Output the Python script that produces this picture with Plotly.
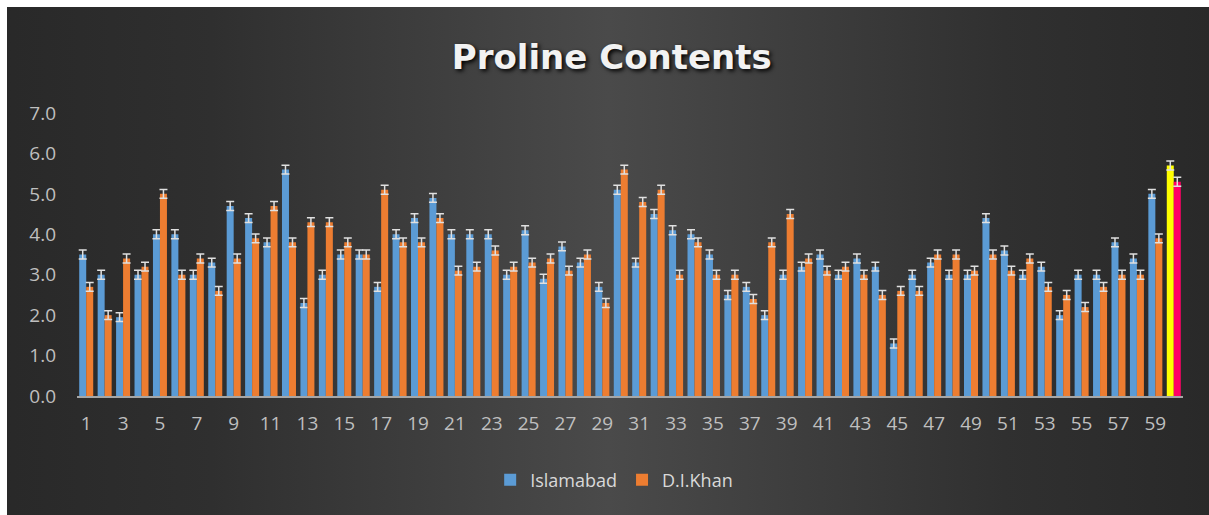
import plotly.graph_objects as go

W, H = 1209, 515

categories = list(range(1, 61))
tick_labels = [str(c) for c in categories[::2]]

islamabad = [3.5, 3.0, 1.95, 3.0, 4.0, 4.0, 3.0, 3.3, 4.7, 4.4,
             3.8, 5.6, 2.3, 3.0, 3.5, 3.5, 2.7, 4.0, 4.4, 4.9,
             4.0, 4.0, 4.0, 3.0, 4.1, 2.9, 3.7, 3.3, 2.7, 5.1,
             3.3, 4.5, 4.1, 4.0, 3.5, 2.5, 2.7, 2.0, 3.0, 3.2,
             3.5, 3.0, 3.4, 3.2, 1.3, 3.0, 3.3, 3.0, 3.0, 4.4,
             3.6, 3.0, 3.2, 2.0, 3.0, 3.0, 3.8, 3.4, 5.0, 5.7]
dikhan = [2.7, 2.0, 3.4, 3.2, 5.0, 3.0, 3.4, 2.6, 3.4, 3.9,
          4.7, 3.8, 4.3, 4.3, 3.8, 3.5, 5.1, 3.8, 3.8, 4.4,
          3.1, 3.2, 3.6, 3.2, 3.3, 3.4, 3.1, 3.5, 2.3, 5.6,
          4.8, 5.1, 3.0, 3.8, 3.0, 3.0, 2.4, 3.8, 4.5, 3.4,
          3.1, 3.2, 3.0, 2.5, 2.6, 2.6, 3.5, 3.5, 3.1, 3.5,
          3.1, 3.4, 2.7, 2.5, 2.2, 2.7, 3.0, 3.0, 3.9, 5.3]
islamabad_err = [0.11] * 60
dikhan_err = [0.11] * 60

BLUE, ORANGE, YELLOW, PINK = "#5b9bd5", "#ed7d31", "#ffff00", "#ff0066"
blue_colors = [BLUE] * 59 + [YELLOW]
orange_colors = [ORANGE] * 59 + [PINK]

fig = go.Figure()

# background gradient panel (drawn on its own hidden subplot, beneath)
fig.add_trace(go.Scatter(
    x=[-0.05, 1.05, 1.05, -0.05, -0.05], y=[-0.05, -0.05, 1.05, 1.05, -0.05], mode="lines", fill="toself",
    line=dict(width=0), fillgradient=dict(type="horizontal", colorscale=[
        [0, "#272727"], [0.2, "#2f2f2f"], [0.5, "#4a4a4a"], [0.8, "#303030"], [1, "#272727"]]),
    hoverinfo="skip", showlegend=False, xaxis="x", yaxis="y"))

fig.add_trace(go.Bar(
    name="Islamabad", x=categories, y=islamabad, marker=dict(color=blue_colors, line=dict(width=0)),
    error_y=dict(type="data", array=islamabad_err, color="#e0e0e0", thickness=1.5, width=4),
    xaxis="x2", yaxis="y2"))
fig.add_trace(go.Bar(
    name="D.I.Khan", x=categories, y=dikhan, marker=dict(color=orange_colors, line=dict(width=0)),
    error_y=dict(type="data", array=dikhan_err, color="#e0e0e0", thickness=1.5, width=4),
    xaxis="x2", yaxis="y2"))

fig.update_layout(
    template="none",
    width=W, height=H,
    margin=dict(l=0, r=0, t=0, b=0, pad=0, autoexpand=False),
    paper_bgcolor="#272727", plot_bgcolor="rgba(0,0,0,0)",
    shapes=[
        dict(type="rect", xref="paper", yref="paper", x0=0, x1=1, y0=1 - 7 / H, y1=1.01,
             fillcolor="white", line=dict(width=0), layer="below"),
        dict(type="rect", xref="paper", yref="paper", x0=-0.01, x1=7 / W, y0=-0.01, y1=1.01,
             fillcolor="white", line=dict(width=0), layer="below"),
    ],
    barmode="group", bargap=0.24, bargroupgap=0.0,
    font=dict(family="Open Sans, sans-serif", color="#bfbfbf"),
    title=dict(text="<b>Proline Contents</b>", x=0.506, xanchor="center", y=0.889, yanchor="middle",
               font=dict(size=34, color="#f2f2f2", family="DejaVu Sans, sans-serif",
                         shadow="2px 2px 4px #000000")),
    xaxis=dict(domain=[7 / W, 1], range=[0, 1], visible=False, fixedrange=True, automargin=False),
    yaxis=dict(domain=[0, 1 - 7 / H], range=[0, 1], visible=False, fixedrange=True, automargin=False),
    xaxis2=dict(domain=[77 / W, 1183 / W], anchor="y2", range=[0.5, 60.5], automargin=False,
                tickmode="array", tickvals=categories[::2], ticktext=tick_labels,
                showgrid=False, zeroline=False, showline=True, linecolor="#a6a6a6", linewidth=1.5,
                ticks="", ticklabelstandoff=9, tickfont=dict(size=19, color="#bfbfbf")),
    yaxis2=dict(domain=[(H - 396) / H, (H - 113) / H], anchor="x2", range=[0, 7], automargin=False,
                dtick=1, tickformat=".1f", showgrid=False, zeroline=False, showline=False,
                ticks="", ticklabelstandoff=20, tickfont=dict(size=19, color="#bfbfbf")),
    legend=dict(orientation="h", x=0.508, xanchor="center", y=(H - 480) / H, yanchor="middle",
                font=dict(size=18, color="#d9d9d9"), bgcolor="rgba(0,0,0,0)", borderwidth=0,
                itemwidth=30, traceorder="normal"),
    showlegend=True,
)

fig.write_html("out.html", config={"displayModeBar": False},
               post_script="document.body.style.margin='0';")
